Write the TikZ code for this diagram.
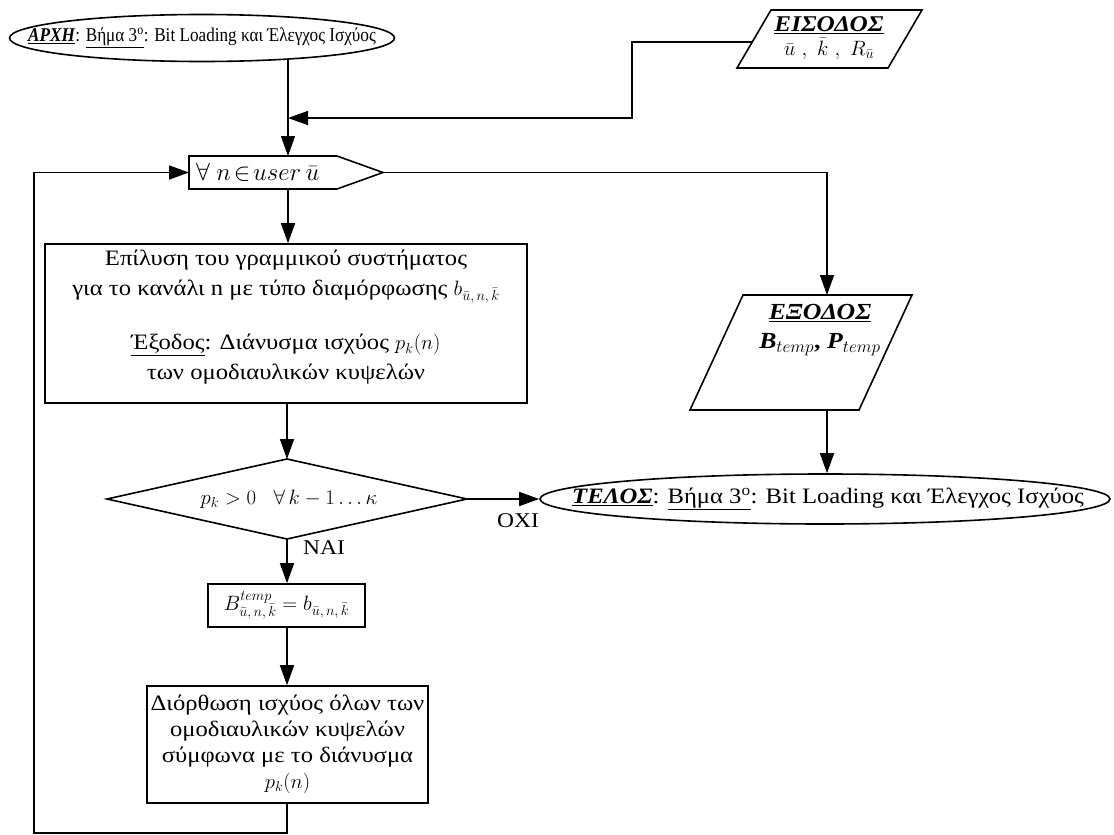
\documentclass[tikz,border=0pt]{standalone}
\usepackage{fontspec}
\setmainfont[FakeStretch=1.12]{Liberation Serif}
\newfontfamily\narrowserif[FakeStretch=0.88]{Liberation Serif}
\usetikzlibrary{arrows.meta,shapes.geometric}
\begin{document}
\begin{tikzpicture}[x=1pt,y=-1pt,
  ln/.style={line width=1.6pt},
  arr/.style={line width=1.6pt,-{Triangle[length=20pt,width=14pt]}},
  boxnode/.style={draw,line width=1.6pt,inner sep=0pt,align=center},
  txt/.style={font=\fontsize{22}{26}\selectfont,align=center,inner sep=0pt},
  term/.style={draw,ellipse,line width=1.6pt,inner sep=0pt}]
\useasboundingbox (0,0) rectangle (1114,835);
% start
\node[term,minimum width=385pt,minimum height=47pt] (start) at (202,38) {};
\node[txt,font=\narrowserif\fontsize{19.5}{22}\selectfont] (starttext) at (start.center)
  {\underline{\textbf{\textit{ΑΡΧΗ}}}: \underline{Βήμα 3\textsuperscript{ο}}: Bit Loading και Έλεγχος Ισχύος};
\coordinate (startout) at (288,59.5);
% input parallelogram
\coordinate (iTL) at (771,10); \coordinate (iTR) at (922,10);
\coordinate (iBR) at (888,68); \coordinate (iBL) at (737,68);
\draw[ln] (iTL)--(iTR)--(iBR)--(iBL)--cycle;
\coordinate (inL) at (752.5,42);
\node[txt,font=\fontsize{22.5}{25}\selectfont] (intext) at (829,38)
  {\underline{\textbf{\textit{ΕΙΣΟΔΟΣ}}}\\[-1pt] $\bar{u}\ ,\ \bar{k}\ ,\ R_{\bar{u}}$};
\coordinate (inbend1) at (632,42);
\coordinate (inbend2) at (632,118);
\coordinate (join) at (288,118);
% loop node
\coordinate (lA) at (189,156); \coordinate (lB) at (337,156);
\coordinate (lP) at (383,172.5); \coordinate (lC) at (337,189);
\coordinate (lD) at (189,189);
\draw[ln] (lA)--(lB)--(lP)--(lC)--(lD)--cycle;
\node[txt,anchor=west,font=\fontsize{23}{26}\selectfont] (looptext) at (196,172.5) {$\forall\ n\!\in\! user\,\bar{u}$};
\coordinate (loopN) at (288,156);
\coordinate (loopS) at (288,189);
\coordinate (loopW) at (189,172.5);
% process box
\node[boxnode,minimum width=482pt,minimum height=159pt] (solve) at (286,323.5) {};
\node[txt,font=\fontsize{22}{30}\selectfont] (solvetext) at (286,317.5)
  {Επίλυση του γραμμικού συστήματος\\
   για το κανάλι n με τύπο διαμόρφωσης $b_{\bar{u},\,n,\,\bar{k}}$\\[24pt]
   \underline{Έξοδος}: Διάνυσμα ισχύος $p_k(n)$\\
   των ομοδιαυλικών κυψελών};
% decision
\coordinate (dT) at (287,459); \coordinate (dR) at (467,499);
\coordinate (dB) at (287,539); \coordinate (dL) at (107,499);
\draw[ln] (dT)--(dR)--(dB)--(dL)--cycle;
\node[txt,font=\fontsize{21}{24}\selectfont] (dec) at (289,499) {$p_k > 0\ \ \ \forall\, k - 1 \ldots \kappa$};
% B box
\node[boxnode,txt,minimum width=157pt,minimum height=43pt] (assign) at (286.5,605.5)
  {$B^{temp}_{\bar{u},\,n,\,\bar{k}} = b_{\bar{u},\,n,\,\bar{k}}$};
% correction box
\node[boxnode,txt,font=\fontsize{22}{26}\selectfont,minimum width=281pt,minimum height=117pt] (corr) at (287.5,744.5)
  {Διόρθωση ισχύος όλων των\\ ομοδιαυλικών κυψελών\\ σύμφωνα με το διάνυσμα\\ $p_k(n)$};
% output parallelogram
\coordinate (oTL) at (743,295); \coordinate (oTR) at (912,295);
\coordinate (oBR) at (859,410); \coordinate (oBL) at (690,410);
\draw[ln] (oTL)--(oTR)--(oBR)--(oBL)--cycle;
\node[txt,font=\fontsize{23}{27}\selectfont] (outtext) at (820,330)
  {\underline{\textbf{\textit{ΕΞΟΔΟΣ}}}\\[2pt] \textbf{\textit{B}}$_{temp}$\textbf{,} \textbf{\textit{P}}$_{temp}$};
\coordinate (outT) at (827,295);
\coordinate (outB) at (827,410);
\coordinate (rbend) at (827,172.5);
% end
\node[term,minimum width=570pt,minimum height=50pt] (end) at (825,499) {};
\node[txt,font=\fontsize{22}{26}\selectfont] (endtext) at (828,499)
  {\underline{\textbf{\textit{ΤΕΛΟΣ}}}: \underline{Βήμα 3\textsuperscript{ο}}: Bit Loading και Έλεγχος Ισχύος};
% connectors
\draw[arr] (startout) -- (loopN);
\draw[arr] (inL) -- (inbend1) -- (inbend2) -- (join);
\draw[arr] (loopS) -- (solve.north -| loopS);
\draw[arr] (lP) -- (rbend) -- (outT);
\draw[arr] (outB) -- (end.north -| outB);
\draw[arr] (solve.south -| dT) -- (dT);
\draw[arr] (dR) -- (end.west);
\node[txt,font=\fontsize{21}{24}\selectfont] (no) at (518,521) {ΟΧΙ};
\draw[arr] (dB) -- (assign.north -| dB);
\node[txt,font=\fontsize{21}{24}\selectfont,anchor=west] (yes) at (303,548) {ΝΑΙ};
\draw[arr] (assign.south -| dB) -- (corr.north -| dB);
\coordinate (lb1) at (287,833);
\coordinate (lb2) at (34,833);
\coordinate (lb3) at (34,172.5);
\draw[arr] (corr.south -| dB) -- (lb1) -- (lb2) -- (lb3) -- (loopW);
\end{tikzpicture}
\end{document}
